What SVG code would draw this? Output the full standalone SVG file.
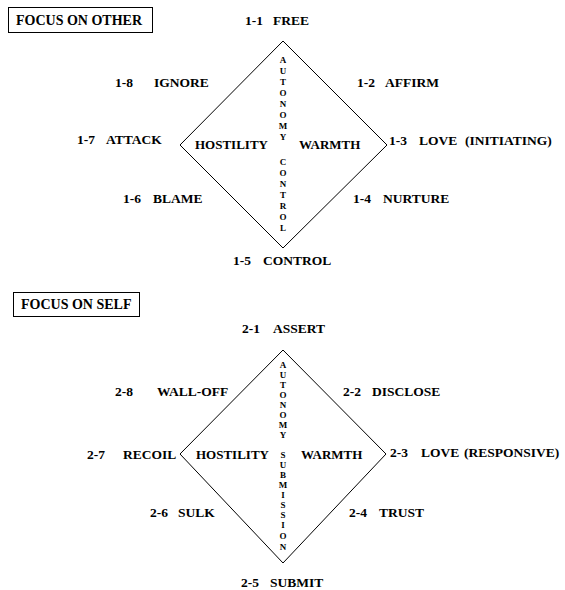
<svg xmlns="http://www.w3.org/2000/svg" width="565" height="590" viewBox="0 0 565 590">
<style>
text{font-family:"Liberation Serif","Times New Roman",serif;font-weight:bold;fill:#000}
.lbl{font-size:13.5px}
.in{font-size:13px}
.hd{font-size:14px}
.v{font-size:9px;text-anchor:middle}
.box{fill:#fff;stroke:#000;stroke-width:1}
.dia{fill:none;stroke:#000;stroke-width:1}
</style>
<rect width="565" height="590" fill="#fff"/>

<g id="header-other">
<rect class="box" x="8.5" y="7.5" width="144" height="25"/>
<text class="hd" x="16" y="25">FOCUS ON OTHER</text>
</g>
<g id="connectors">
<polygon class="dia" points="283,41 387,145 283,248 180,145"/>
<polygon class="dia" points="283,350 386,454 283,563 180,454"/>
</g>
<g id="n1-1"><text class="lbl" y="25"><tspan x="245">1-1</tspan><tspan x="273">FREE</tspan></text></g>
<g id="n1-2"><text class="lbl" y="87"><tspan x="357">1-2</tspan><tspan x="385">AFFIRM</tspan></text></g>
<g id="n1-3"><text class="lbl" y="145"><tspan x="389">1-3</tspan><tspan x="419">LOVE</tspan><tspan x="465">(INITIATING)</tspan></text></g>
<g id="n1-4"><text class="lbl" y="203"><tspan x="353">1-4</tspan><tspan x="383">NURTURE</tspan></text></g>
<g id="n1-5"><text class="lbl" y="265"><tspan x="233">1-5</tspan><tspan x="263">CONTROL</tspan></text></g>
<g id="n1-6"><text class="lbl" y="203"><tspan x="123">1-6</tspan><tspan x="153">BLAME</tspan></text></g>
<g id="n1-7"><text class="lbl" y="144"><tspan x="77">1-7</tspan><tspan x="106">ATTACK</tspan></text></g>
<g id="n1-8"><text class="lbl" y="87"><tspan x="115">1-8</tspan><tspan x="154">IGNORE</tspan></text></g>
<g id="axes-1">
<text class="in" x="195" y="149">HOSTILITY</text>
<text class="in" x="299" y="149">WARMTH</text>
<text class="v" x="283" y="63">A</text><text class="v" x="283" y="74">U</text><text class="v" x="283" y="85">T</text><text class="v" x="283" y="96">O</text><text class="v" x="283" y="107">N</text><text class="v" x="283" y="118">O</text><text class="v" x="283" y="129">M</text><text class="v" x="283" y="140">Y</text>
<text class="v" x="283" y="165">C</text><text class="v" x="283" y="176">O</text><text class="v" x="283" y="187">N</text><text class="v" x="283" y="198">T</text><text class="v" x="283" y="209">R</text><text class="v" x="283" y="220">O</text><text class="v" x="283" y="231">L</text>
</g>

<g id="header-self">
<rect class="box" x="13.5" y="292.5" width="126" height="24"/>
<text class="hd" x="21" y="309">FOCUS ON SELF</text>
</g>
<g id="n2-1"><text class="lbl" y="333"><tspan x="242">2-1</tspan><tspan x="273">ASSERT</tspan></text></g>
<g id="n2-2"><text class="lbl" y="396"><tspan x="343">2-2</tspan><tspan x="372">DISCLOSE</tspan></text></g>
<g id="n2-3"><text class="lbl" y="457"><tspan x="390">2-3</tspan><tspan x="421">LOVE</tspan><tspan x="464">(RESPONSIVE)</tspan></text></g>
<g id="n2-4"><text class="lbl" y="517"><tspan x="349">2-4</tspan><tspan x="379">TRUST</tspan></text></g>
<g id="n2-5"><text class="lbl" y="587"><tspan x="241">2-5</tspan><tspan x="270">SUBMIT</tspan></text></g>
<g id="n2-6"><text class="lbl" y="517"><tspan x="150">2-6</tspan><tspan x="178">SULK</tspan></text></g>
<g id="n2-7"><text class="lbl" y="459"><tspan x="87">2-7</tspan><tspan x="123">RECOIL</tspan></text></g>
<g id="n2-8"><text class="lbl" y="396"><tspan x="115">2-8</tspan><tspan x="157">WALL-OFF</tspan></text></g>
<g id="axes-2">
<text class="in" x="196" y="459">HOSTILITY</text>
<text class="in" x="301" y="459">WARMTH</text>
<text class="v" x="283" y="368">A</text><text class="v" x="283" y="378">U</text><text class="v" x="283" y="388">T</text><text class="v" x="283" y="398">O</text><text class="v" x="283" y="408">N</text><text class="v" x="283" y="418">O</text><text class="v" x="283" y="428">M</text><text class="v" x="283" y="438">Y</text>
<text class="v" x="283" y="458">S</text><text class="v" x="283" y="468">U</text><text class="v" x="283" y="478">B</text><text class="v" x="283" y="488">M</text><text class="v" x="283" y="498">I</text><text class="v" x="283" y="508">S</text><text class="v" x="283" y="518">S</text><text class="v" x="283" y="528">I</text><text class="v" x="283" y="539">O</text><text class="v" x="283" y="550">N</text>
</g>
</svg>
